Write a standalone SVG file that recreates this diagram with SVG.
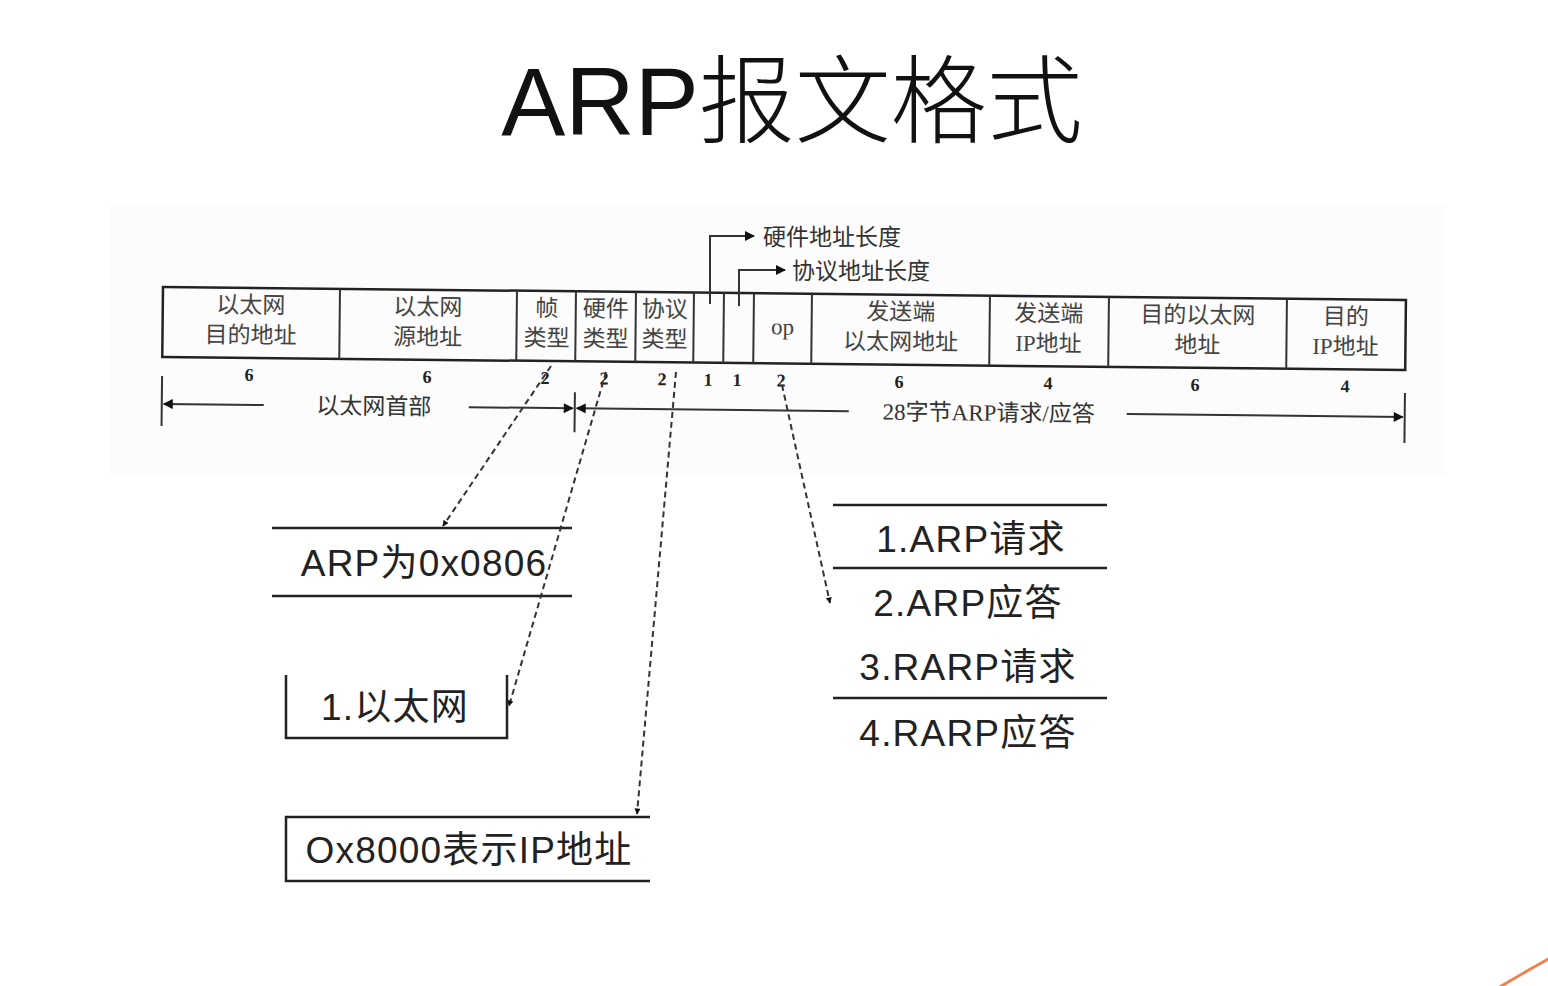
<svg xmlns="http://www.w3.org/2000/svg" width="1548" height="986" viewBox="0 0 1548 986">
<defs>
<style>
.title{font-family:"Liberation Sans","Noto Sans CJK SC",sans-serif;font-size:96px;font-weight:300;fill:#111}
.cell{font-family:"Liberation Serif","Noto Sans CJK SC",serif;font-size:23px;fill:#444;text-anchor:middle}
.num{font-family:"Liberation Serif","Noto Sans CJK SC",serif;font-size:18px;font-weight:bold;fill:#222;text-anchor:middle}
.lab{font-family:"Liberation Serif","Noto Sans CJK SC",serif;font-size:23px;fill:#333}
.big{font-family:"Liberation Sans","Noto Sans CJK SC",sans-serif;font-size:37px;letter-spacing:1.2px;fill:#222;text-anchor:middle}
.ln{stroke:#222;stroke-width:2.5;fill:none}
.thin{stroke:#333;stroke-width:2;fill:none}
.dash{stroke:#333;stroke-width:2;fill:none;stroke-dasharray:6 4}
</style>
<marker id="ah" viewBox="0 0 10 10" refX="9" refY="5" markerWidth="7" markerHeight="6" orient="auto-start-reverse" markerUnits="userSpaceOnUse">
<path d="M0,0 L10,5 L0,10 z" fill="#111"/>
</marker>
<marker id="ahb" viewBox="0 0 10 10" refX="9" refY="5" markerWidth="16" markerHeight="10" orient="auto-start-reverse" markerUnits="userSpaceOnUse">
<path d="M0,0 L10,5 L0,10 z" fill="#111"/>
</marker>
</defs>
<rect width="1548" height="986" fill="#ffffff"/>
<rect x="110" y="205" width="1335" height="270" fill="#fcfcfc"/>

<g id="title"><text class="title" x="792" y="135" text-anchor="middle">ARP报文格式</text></g>

<g id="packet" transform="rotate(0.6 163 287)">
<rect x="163" y="287" width="1243" height="70" class="ln" fill="#fff"/>
<g class="thin">
<line x1="340" y1="287" x2="340" y2="357"/>
<line x1="517" y1="287" x2="517" y2="357"/>
<line x1="576" y1="287" x2="576" y2="357"/>
<line x1="636" y1="287" x2="636" y2="357"/>
<line x1="694" y1="287" x2="694" y2="357"/>
<line x1="724" y1="287" x2="724" y2="357"/>
<line x1="754" y1="287" x2="754" y2="357"/>
<line x1="812" y1="287" x2="812" y2="357"/>
<line x1="990" y1="287" x2="990" y2="357"/>
<line x1="1109" y1="287" x2="1109" y2="357"/>
<line x1="1287" y1="287" x2="1287" y2="357"/>
</g>
<g id="f-dst"><text class="cell" x="251" y="312">以太网</text><text class="cell" x="251" y="342">目的地址</text></g>
<g id="f-src"><text class="cell" x="428" y="312">以太网</text><text class="cell" x="428" y="342">源地址</text></g>
<g id="f-frame"><text class="cell" x="547" y="312">帧</text><text class="cell" x="547" y="342">类型</text></g>
<g id="f-hw"><text class="cell" x="606" y="312">硬件</text><text class="cell" x="606" y="342">类型</text></g>
<g id="f-proto"><text class="cell" x="665" y="312">协议</text><text class="cell" x="665" y="342">类型</text></g>
<g id="f-op"><text class="cell" x="783" y="328">op</text></g>
<g id="f-sha"><text class="cell" x="901" y="312">发送端</text><text class="cell" x="901" y="342">以太网地址</text></g>
<g id="f-spa"><text class="cell" x="1049" y="312">发送端</text><text class="cell" x="1049" y="342">IP地址</text></g>
<g id="f-tha"><text class="cell" x="1198" y="312">目的以太网</text><text class="cell" x="1198" y="342">地址</text></g>
<g id="f-tpa"><text class="cell" x="1346" y="312">目的</text><text class="cell" x="1346" y="342">IP地址</text></g>
<g id="sizes">
<text class="num" x="250" y="380">6</text>
<text class="num" x="428" y="380">6</text>
<text class="num" x="546" y="380">2</text>
<text class="num" x="605" y="380">2</text>
<text class="num" x="663" y="380">2</text>
<text class="num" x="709" y="380">1</text>
<text class="num" x="738" y="380">1</text>
<text class="num" x="782" y="380">2</text>
<text class="num" x="900" y="380">6</text>
<text class="num" x="1049" y="380">4</text>
<text class="num" x="1196" y="380">6</text>
<text class="num" x="1346" y="380">4</text>
</g>
<g id="spans">
<line x1="163" y1="376" x2="163" y2="426" class="thin"/>
<line x1="265" y1="404" x2="165" y2="404" class="thin" marker-end="url(#ahb)"/>
<text class="lab" x="375" y="412" text-anchor="middle">以太网首部</text>
<line x1="470" y1="404" x2="574" y2="404" class="thin" marker-end="url(#ahb)"/>
<line x1="576" y1="388" x2="576" y2="428" class="thin"/>
<line x1="850" y1="404" x2="578" y2="404" class="thin" marker-end="url(#ahb)"/>
<text class="lab" x="990" y="412" text-anchor="middle">28字节ARP请求/应答</text>
<line x1="1128" y1="404" x2="1404" y2="404" class="thin" marker-end="url(#ahb)"/>
<line x1="1406" y1="380" x2="1406" y2="430" class="thin"/>
</g>
</g>

<g id="hlen-note">
<polyline points="710,304 710,236 754,236" class="thin" marker-end="url(#ahb)"/>
<text class="lab" x="763" y="245">硬件地址长度</text>
</g>
<g id="plen-note">
<polyline points="739,306 739,270 785,270" class="thin" marker-end="url(#ahb)"/>
<text class="lab" x="792" y="279">协议地址长度</text>
</g>

<g id="arp-type">
<line x1="272" y1="528" x2="572" y2="528" class="ln"/>
<line x1="272" y1="596" x2="572" y2="596" class="ln"/>
<text class="big" x="424" y="576">ARP为0x0806</text>
</g>
<g id="hw-type">
<polyline points="286,675 286,738 507,738 507,675" class="ln"/>
<text class="big" x="395" y="720">1.以太网</text>
</g>
<g id="proto-type">
<polyline points="650,817 286,817 286,881 650,881" class="ln"/>
<text class="big" x="469" y="863">Ox8000表示IP地址</text>
</g>
<g id="op-list">
<line x1="833" y1="505" x2="1107" y2="505" class="ln"/>
<line x1="833" y1="568" x2="1107" y2="568" class="ln"/>
<line x1="833" y1="698" x2="1107" y2="698" class="ln"/>
<text class="big" x="971" y="552">1.ARP请求</text>
<text class="big" x="968" y="616">2.ARP应答</text>
<text class="big" x="968" y="680">3.RARP请求</text>
<text class="big" x="968" y="746">4.RARP应答</text>
</g>

<g id="connectors">
<line x1="551" y1="366" x2="443" y2="526" class="dash" stroke-dasharray="3 3" marker-end="url(#ah)"/>
<line x1="606" y1="372" x2="509" y2="706" class="dash" marker-end="url(#ah)"/>
<line x1="676" y1="372" x2="637" y2="814" class="dash" stroke-dasharray="14 4" marker-end="url(#ah)"/>
<line x1="782" y1="385" x2="830" y2="603" class="dash" stroke-dasharray="8 5" marker-end="url(#ah)"/>
</g>

<path d="M1498,988 Q1525,972 1550,958" stroke="#f08050" stroke-width="3" fill="none"/>
</svg>
